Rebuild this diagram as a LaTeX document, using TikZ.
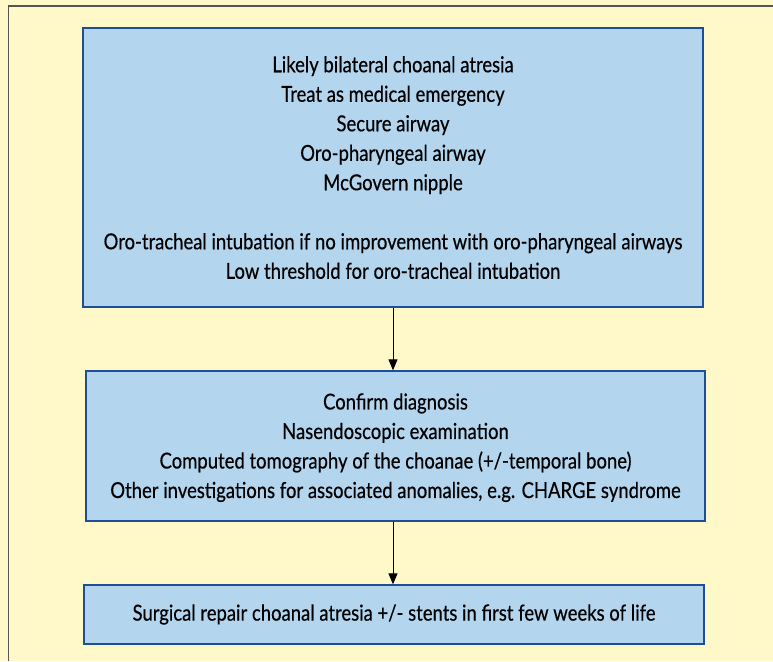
\documentclass[tikz,border=0pt]{standalone}
\usepackage{fontspec}
\setmainfont{Lato}[FakeStretch=0.84,FakeBold=0.4]
\usetikzlibrary{arrows.meta}
\definecolor{bgyellow}{HTML}{FFF8C8}
\definecolor{boxblue}{HTML}{B3D5EE}
\definecolor{boxedge}{HTML}{1F4E96}
\definecolor{framegray}{HTML}{555555}
\tikzset{
  flowbox/.style={draw=boxedge, line width=1.3pt, fill=boxblue, align=center,
    inner sep=0pt, font=\fontsize{22}{29.5}\selectfont},
  flowarrow/.style={draw=black, line width=1pt, -{Triangle[length=11pt,width=9pt]}}
}
\begin{document}
\begin{tikzpicture}[x=1pt,y=-1pt]
\useasboundingbox (0,0) rectangle (773,661);
\fill[bgyellow] (0,0) rectangle (773,661);
\draw[framegray, line width=1.5pt] (8.5,661) -- (8.5,6) -- (773,6);
\node[flowbox, minimum width=620pt, minimum height=279pt] (b1) at (393,167.5)
  {Likely bilateral choanal atresia\\
   Treat as medical emergency\\
   Secure airway\\
   Oro-pharyngeal airway\\
   McGovern nipple\\[29.5pt]
   Oro-tracheal intubation if no improvement with oro-pharyngeal airways\\
   Low threshold for oro-tracheal intubation};
\node[flowbox, minimum width=619pt, minimum height=150pt] (b2) at (395.5,446)
  {\\[-10pt]Confirm diagnosis\\
   Nasendoscopic examination\\
   Computed tomography of the choanae (+/-temporal bone)\\
   Other investigations for associated anomalies, e.g. CHARGE syndrome};
\node[flowbox, minimum width=620pt, minimum height=59pt] (b3) at (394,614.5)
  {\raisebox{-6pt}{Surgical repair choanal atresia +/- stents in first few weeks of life}};
\draw[flowarrow] (b1.south) -- (b1.south |- b2.north);
\draw[flowarrow] (b1.south |- b2.south) -- (b1.south |- b3.north);
\end{tikzpicture}
\end{document}
